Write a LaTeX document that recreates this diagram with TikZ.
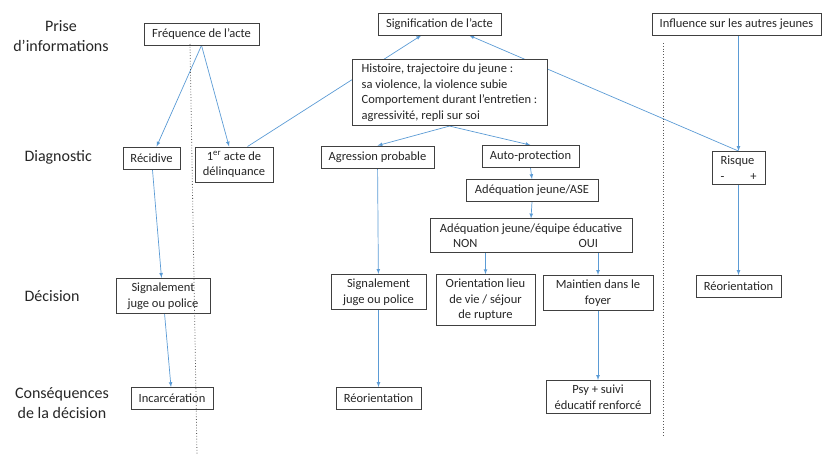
\documentclass[tikz,border=0pt]{standalone}
\usepackage{fontspec}
\setmainfont{Carlito}
\usetikzlibrary{backgrounds}
\definecolor{linkblue}{RGB}{91,155,213}
\definecolor{boxline}{RGB}{64,64,64}
\definecolor{textgray}{RGB}{38,38,38}
\tikzstyle{box}=[draw=boxline, fill=white, line width=0.8pt, align=center, inner xsep=4pt, inner ysep=4.5pt, minimum height=22pt, text=textgray, font=\fontsize{12.5}{15.5}\selectfont]
\tikzset{link/.style={-latex, line width=0.7pt, color=linkblue}}
\tikzset{rowlabel/.style={align=center, text=textgray, font=\fontsize{16}{19.5}\selectfont}}
\tikzset{divider/.style={dotted, line width=0.8pt, color=black!65}}

\begin{document}
\begin{tikzpicture}[x=1pt,y=-1pt]
  \useasboundingbox (0,0) rectangle (822,455);

  %% Row labels
  \draw (61,36) node[rowlabel] (lprise) {Prise\\d’informations};
  \draw (21,157) node[rowlabel,anchor=west] (ldiag) {Diagnostic};
  \draw (21,296) node[rowlabel,anchor=west] (ldec) {Décision};
  \draw (62,403) node[rowlabel] (lcons) {Conséquences\\de la décision};

  %% Prise d'informations
  \draw (201.5,34) node[box,minimum width=115pt] (freq) {Fréquence de l’acte};
  \draw (439.5,24) node[box,minimum width=123pt] (sig) {Signification de l’acte};
  \draw (736.5,24) node[box,minimum width=169pt] (infl) {Influence sur les autres jeunes};
  \draw (449.5,92.5) node[box,minimum width=195pt,align=left] (histo) {Histoire, trajectoire du jeune :\\sa violence, la violence subie\\Comportement durant l’entretien :\\agressivité, repli sur soi};

  %% Diagnostic
  \draw (151.5,158) node[box,minimum width=57pt] (recid) {Récidive};
  \draw (234,164.5) node[box,minimum width=78pt] (acte1) {1\textsuperscript{er} acte de\\délinquance};
  \draw (377.5,157) node[box,minimum width=113pt] (agres) {Agression probable};
  \draw (530.5,156.5) node[box,minimum width=97pt] (autop) {Auto-protection};
  \draw (532,190.5) node[box,minimum width=132pt] (adase) {Adéquation jeune/ASE};
  \draw (531,235.5) node[box,minimum width=202pt] (adeq) {Adéquation jeune/équipe éducative\\\makebox[186pt][l]{\hspace{15pt}NON\hfill OUI\hspace{26pt}}};
  \draw (738.5,168) node[box,minimum width=53pt,align=left] (risque) {Risque\\\makebox[36pt][l]{-\hfill+}};

  %% Decision
  \draw (163,296) node[box,minimum width=94pt] (sig1) {Signalement\\juge ou police};
  \draw (378.5,292) node[box,minimum width=95pt] (sig2) {Signalement\\juge ou police};
  \draw (485.5,300) node[box,minimum width=99pt] (orient) {Orientation lieu\\de vie / séjour\\de rupture};
  \draw (598,293) node[box,minimum width=110pt] (maint) {Maintien dans le\\foyer};
  \draw (738.5,286.5) node[box,minimum width=85pt] (reor1) {Réorientation};

  %% Consequences
  \draw (172,398.5) node[box,minimum width=82pt] (incar) {Incarcération};
  \draw (378.5,398.5) node[box,minimum width=85pt] (reor2) {Réorientation};
  \draw (598,397) node[box,minimum width=104pt] (psy) {Psy + suivi\\éducatif renforcé};

  %% Arrows
  \begin{scope}[on background layer]
    \draw[link] (freq.south) -- (recid);
    \draw[link] (freq.south) -- (acte1);
    \draw[link] (acte1.53) -- (sig.-148);
    \draw[link] (risque.north) -- (sig.-21);
    \draw[link] (histo.south) -- (agres.north);
    \draw[link] (histo.south) -- (autop.north);
    \draw[link] (autop.south) -- (adase.north);
    \draw[link] (adase.south) -- (adeq.north);
    \draw[link] (adeq.south -| orient.north) -- (orient.north);
    \draw[link] (adeq.south -| maint.north) -- (maint.north);
    \draw[link] (agres) -- (sig2);
    \draw[link] (sig2) -- (reor2);
    \draw[link] (maint) -- (psy);
    \draw[link] (recid) -- (sig1);
    \draw[link] (sig1) -- (incar);
    \draw[link] (infl.south -| risque.north) -- (risque.north);
    \draw[link] (risque) -- (reor1);
  \end{scope}

  %% Separators
  \draw[divider] (190,44) -- (197,455);
  \draw[divider] (663,43) -- (663,437);
\end{tikzpicture}
\end{document}
